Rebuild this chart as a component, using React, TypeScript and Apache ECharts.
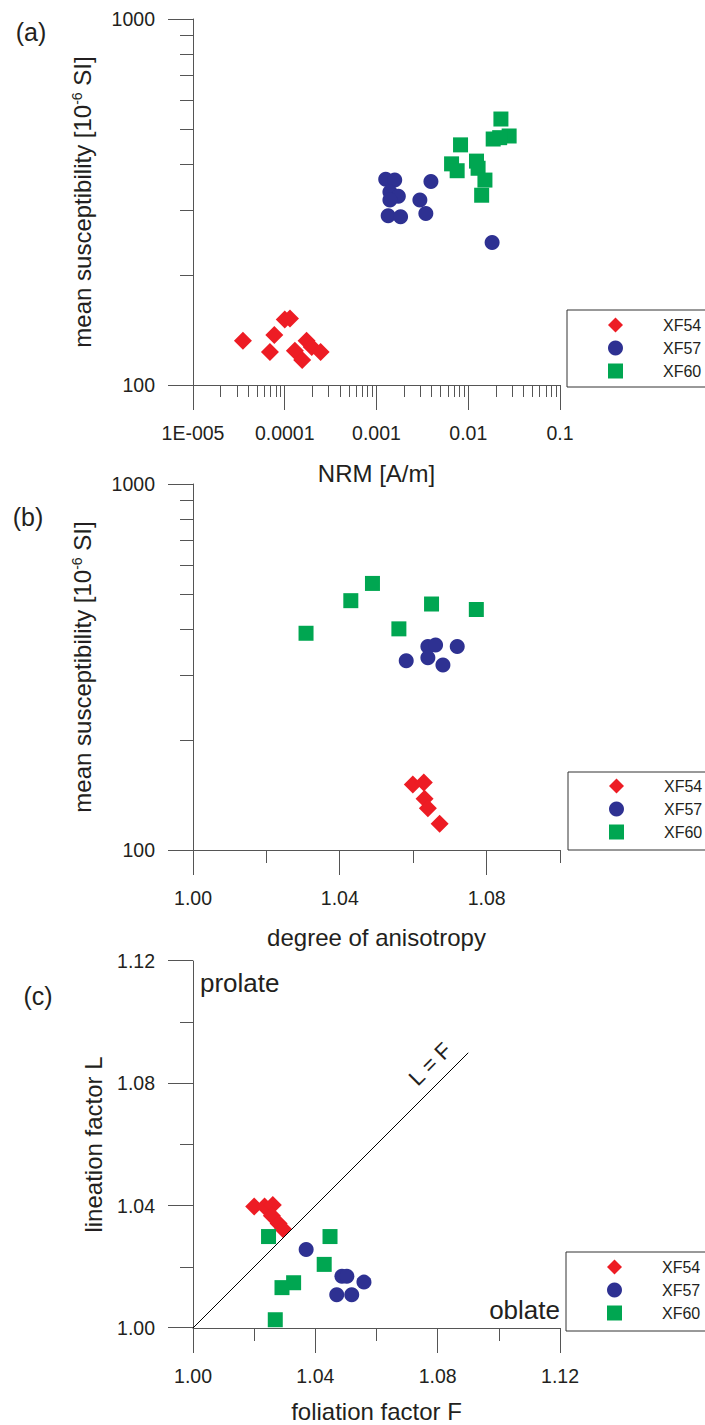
import React, { useEffect, useRef } from "react";
import * as echarts from "echarts";

// ---------- Panel (a): NRM vs mean susceptibility ----------
const aNrmXF54 = [3.5e-5, 7.7e-5, 6.9e-5, 1.0e-4, 1.14e-4, 1.73e-4, 1.29e-4, 1.55e-4, 1.97e-4, 2.46e-4];
const aSusXF54 = [132, 137, 123, 151, 152, 132, 124, 117, 127, 123];
const aNrmXF57 = [1.26e-3, 1.58e-3, 1.4e-3, 1.73e-3, 1.4e-3, 1.34e-3, 1.83e-3, 2.97e-3, 3.45e-3, 3.92e-3, 1.82e-2];
const aSusXF57 = [365, 363, 337, 328, 320, 290, 288, 320, 294, 360, 245];
const aNrmXF60 = [2.27e-2, 1.87e-2, 2.79e-2, 2.2e-2, 8.24e-3, 6.58e-3, 7.57e-3, 1.23e-2, 1.28e-2, 1.52e-2, 1.4e-2];
const aSusXF60 = [533, 470, 479, 474, 453, 402, 385, 409, 391, 363, 330];

// ---------- Panel (b): degree of anisotropy vs mean susceptibility ----------
const bPjXF54 = [1.0599, 1.0629, 1.0631, 1.064, 1.0672];
const bSusXF54 = [151, 153, 138, 130, 118];
const bPjXF57 = [1.0581, 1.064, 1.0661, 1.064, 1.0681, 1.072];
const bSusXF57 = [329, 360, 363, 335, 320, 360];
const bPjXF60 = [1.0308, 1.043, 1.0489, 1.065, 1.0561, 1.0772];
const bSusXF60 = [391, 480, 535, 470, 402, 454];

// ---------- Panel (c): foliation F vs lineation L ----------
const cFXF54 = [1.02, 1.0234, 1.0261, 1.0258, 1.028, 1.0294];
const cLXF54 = [1.0397, 1.0397, 1.0402, 1.0367, 1.0342, 1.0324];
const cFXF57 = [1.037, 1.0487, 1.0503, 1.0559, 1.047, 1.0519];
const cLXF57 = [1.0257, 1.0169, 1.0169, 1.015, 1.0109, 1.0109];
const cFXF60 = [1.0247, 1.0448, 1.0429, 1.0329, 1.0291, 1.0269];
const cLXF60 = [1.0299, 1.0299, 1.0208, 1.0148, 1.0132, 1.0027];
const lineLF_F = [1.0, 1.09];
const lineLF_L = [1.0, 1.09];

// ---------- ticks ----------
const nrmTicks = [1e-5, 1e-4, 1e-3, 1e-2, 1e-1];
const nrmTickLabels = ["1E-005", "0.0001", "0.001", "0.01", "0.1"];
const susTicks = [100, 1000];
const susTickLabels = ["100", "1000"];
const pjTicks = [1.0, 1.04, 1.08];
const pjMinor = [1.02, 1.06, 1.1];
const flTicks = [1.0, 1.04, 1.08, 1.12];
const flMinor = [1.02, 1.06, 1.1];

const seriesNames = ["XF54", "XF57", "XF60"];
const colors = ["#ED1C24", "#2E3192", "#00A651"];
const symbols = ["diamond", "circle", "rect"];
const symbolSizes = [18, 15, 15];

const FONT = "'Liberation Sans', Arial, Helvetica, sans-serif";
const TXT = "#231F20";
const AX = "#555555";
const MAJOR_LEN = 25;

const zip = (xs: number[], ys: number[]) => xs.map((x, i) => [x, ys[i]]);

const logMinor = (lo: number, hi: number) => {
  const r: number[] = [];
  for (let n = lo; n < hi; n++) for (let k = 2; k <= 9; k++) r.push(n + Math.log10(k));
  return r;
};

// each panel: one grid for the data axes and an identical one for minor ticks
const panelRects = [
  { left: 193, top: 19, width: 367, height: 366 },
  { left: 193, top: 484, width: 367, height: 366 },
  { left: 193, top: 961, width: 367, height: 367 },
];
const grids = panelRects.flatMap((r) => [{ ...r }, { ...r }]);

const lineStyle = { color: AX, width: 1 };
const labelStyle = { fontSize: 19.5, fontFamily: FONT, color: TXT };

// data axis: line, labels and name (major ticks are drawn by a custom series)
function mainAxis(gridIndex: number, position: string, extra: any) {
  return {
    gridIndex,
    position,
    axisLine: { show: true, onZero: false, lineStyle },
    axisTick: { show: false },
    axisLabel: { ...labelStyle, margin: 38 },
    splitLine: { show: false },
    nameLocation: "middle",
    nameTextStyle: { fontSize: 24, fontFamily: FONT, color: TXT },
    ...extra,
  };
}

// minor-tick-only axis
function tickAxis(gridIndex: number, position: string, min: number, max: number, values: number[], len: number) {
  return {
    type: "value",
    gridIndex,
    position,
    min,
    max,
    axisLine: { show: false, onZero: false },
    axisTick: { show: true, length: len, lineStyle, customValues: values },
    axisLabel: { show: false },
    splitLine: { show: false },
  };
}

const supName = (a: string, s: string, b: string) => `{n|${a}}{s|${s}}{n|${b}}`;
const richName = {
  fontSize: 24,
  fontFamily: FONT,
  color: TXT,
  rich: {
    n: { fontSize: 24, fontFamily: FONT, color: TXT },
    s: { fontSize: 14, fontFamily: FONT, color: TXT, verticalAlign: "top" },
  },
};

const fmt2 = (v: number) => v.toFixed(2);

const xAxes = [
  mainAxis(0, "bottom", {
    type: "log",
    logBase: 10,
    min: 1e-5,
    max: 0.1,
    name: "NRM [A/m]",
    nameGap: 76,
    axisLabel: {
      ...labelStyle,
      margin: 38,
      formatter: (v: number) => nrmTickLabels[Math.round(Math.log10(v)) + 5] ?? "",
    },
  }),
  tickAxis(1, "bottom", -5, -1, logMinor(-5, -1), 12),
  mainAxis(2, "bottom", {
    type: "value",
    min: 1.0,
    max: 1.1,
    name: "degree of anisotropy",
    nameGap: 75,
    axisLabel: { ...labelStyle, margin: 38, customValues: pjTicks, formatter: fmt2 },
  }),
  tickAxis(3, "bottom", 1.0, 1.1, pjMinor, 13),
  mainAxis(4, "bottom", {
    type: "value",
    min: 1.0,
    max: 1.12,
    name: "foliation factor F",
    nameGap: 71,
    axisLabel: { ...labelStyle, margin: 38, customValues: flTicks, formatter: fmt2 },
  }),
  tickAxis(5, "bottom", 1.0, 1.12, flMinor, 13),
];

const yAxes = [
  mainAxis(0, "left", {
    type: "log",
    logBase: 10,
    min: 100,
    max: 1000,
    name: supName("mean susceptibility [10", "-6", " SI]"),
    nameGap: 99,
    nameTextStyle: richName,
    axisLabel: {
      ...labelStyle,
      margin: 38,
      formatter: (v: number) => susTickLabels[Math.round(Math.log10(v)) - 2] ?? "",
    },
  }),
  tickAxis(1, "left", 2, 3, logMinor(2, 3), 13),
  mainAxis(2, "left", {
    type: "log",
    logBase: 10,
    min: 100,
    max: 1000,
    name: supName("mean susceptibility [10", "-6", " SI]"),
    nameGap: 99,
    nameTextStyle: richName,
    axisLabel: {
      ...labelStyle,
      margin: 38,
      formatter: (v: number) => susTickLabels[Math.round(Math.log10(v)) - 2] ?? "",
    },
  }),
  tickAxis(3, "left", 2, 3, logMinor(2, 3), 13),
  mainAxis(4, "left", {
    type: "value",
    min: 1.0,
    max: 1.12,
    name: "lineation factor L",
    nameGap: 88,
    axisLabel: { ...labelStyle, margin: 38, customValues: flTicks, formatter: fmt2 },
  }),
  tickAxis(5, "left", 1.0, 1.12, flMinor, 13),
];

const panelData = [
  [zip(aNrmXF54, aSusXF54), zip(aNrmXF57, aSusXF57), zip(aNrmXF60, aSusXF60)],
  [zip(bPjXF54, bSusXF54), zip(bPjXF57, bSusXF57), zip(bPjXF60, bSusXF60)],
  [zip(cFXF54, cLXF54), zip(cFXF57, cLXF57), zip(cFXF60, cLXF60)],
];

const scatterSeries: any[] = [];
panelData.forEach((panel, p) => {
  panel.forEach((data, i) => {
    scatterSeries.push({
      type: "scatter",
      name: seriesNames[i],
      xAxisIndex: p * 2,
      yAxisIndex: p * 2,
      data,
      symbol: symbols[i],
      symbolSize: symbolSizes[i],
      itemStyle: { color: colors[i], opacity: 1 },
      silent: true,
      z: 3,
    });
  });
});

// major ticks, placed through the panel's own axes (api.coord)
const majorTickSeries = (p: number, xTicks: number[], yMin: number, yTicks: number[], xMin: number) => [
  {
    type: "custom",
    name: "x-ticks",
    xAxisIndex: p * 2,
    yAxisIndex: p * 2,
    clip: false,
    silent: true,
    z: 1,
    data: xTicks.map((v) => [v, yMin]),
    renderItem: (_params: any, api: any) => {
      const c = api.coord([api.value(0), api.value(1)]);
      const x = Math.floor(c[0]) + 0.5;
      return {
        type: "line",
        shape: { x1: x, y1: c[1], x2: x, y2: c[1] + MAJOR_LEN },
        style: { stroke: AX, lineWidth: 1 },
      };
    },
  },
  {
    type: "custom",
    name: "y-ticks",
    xAxisIndex: p * 2,
    yAxisIndex: p * 2,
    clip: false,
    silent: true,
    z: 1,
    data: yTicks.map((v) => [xMin, v]),
    renderItem: (_params: any, api: any) => {
      const c = api.coord([api.value(0), api.value(1)]);
      const y = Math.floor(c[1]) + 0.5;
      return {
        type: "line",
        shape: { x1: c[0] - MAJOR_LEN, y1: y, x2: c[0], y2: y },
        style: { stroke: AX, lineWidth: 1 },
      };
    },
  },
];

const lfSeries = {
  type: "line",
  name: "L = F",
  xAxisIndex: 4,
  yAxisIndex: 4,
  data: [],
  silent: true,
  markLine: {
    silent: true,
    symbol: "none",
    animation: false,
    lineStyle: { color: "#000", width: 1, type: "solid" },
    label: {
      show: true,
      position: "insideEndTop",
      formatter: "L = F",
      fontSize: 22,
      fontFamily: FONT,
      color: TXT,
      distance: [10, 8],
    },
    data: [[{ coord: [lineLF_F[0], lineLF_L[0]] }, { coord: [lineLF_F[1], lineLF_L[1]] }]],
  },
  z: 2,
};

const legendBase = (left: number, top: number, padTop: number, padBottom: number) => ({
  data: seriesNames,
  orient: "vertical",
  left,
  top,
  itemWidth: 15,
  itemHeight: 15,
  itemGap: 7,
  padding: [padTop, 50, padBottom, 41],
  borderColor: "#333",
  borderWidth: 1,
  selectedMode: false,
  textStyle: { fontSize: 16, fontFamily: FONT, color: TXT, padding: [0, 0, 0, 35] },
});

const textEl = (text: string, x: number, y: number, size: number, align = "left") => ({
  type: "text",
  x,
  y,
  silent: true,
  style: {
    text,
    fontSize: size,
    fontFamily: FONT,
    fill: TXT,
    align,
    verticalAlign: "middle",
  },
});

const option: any = {
  animation: false,
  backgroundColor: "#ffffff",
  grid: grids,
  xAxis: xAxes,
  yAxis: yAxes,
  legend: [legendBase(567, 310, 7, 8), legendBase(568, 772, 6, 10), legendBase(566, 1252, 7, 10)],
  series: [
    ...majorTickSeries(0, nrmTicks, 100, susTicks, 1e-5),
    ...majorTickSeries(1, pjTicks, 100, susTicks, 1.0),
    ...majorTickSeries(2, flTicks, 1.0, flTicks, 1.0),
    ...scatterSeries,
    lfSeries,
  ],
  graphic: [
    textEl("(a)", 31, 32, 25, "center"),
    textEl("(b)", 28, 517, 25, "center"),
    textEl("(c)", 38, 996, 25, "center"),
    textEl("prolate", 200, 983, 26, "left"),
    textEl("oblate", 560, 1310, 26, "right"),
  ],
};

export default function App() {
  const ref = useRef<HTMLDivElement>(null);
  useEffect(() => {
    if (!ref.current) return;
    const chart = echarts.init(ref.current, null, { renderer: "svg" });
    chart.setOption(option);
    return () => chart.dispose();
  }, []);
  return (
    <div
      ref={ref}
      style={{ position: "absolute", left: 0, top: 0, width: 705, height: 1425, background: "#fff" }}
    />
  );
}
